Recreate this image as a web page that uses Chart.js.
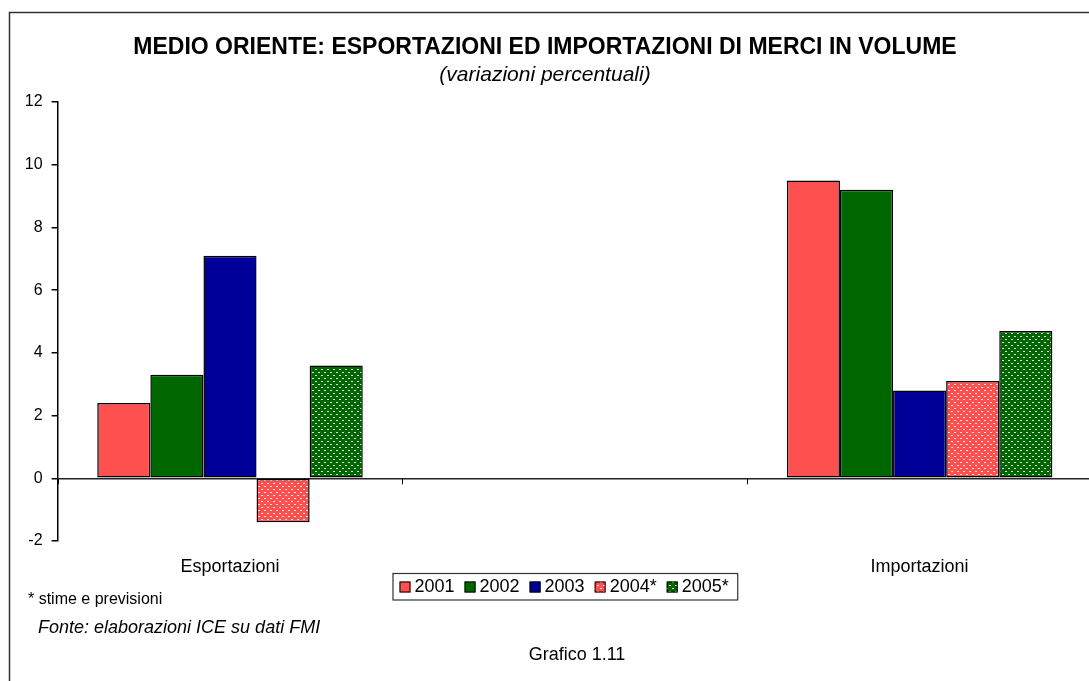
<!DOCTYPE html>
<html>
<head>
<meta charset="utf-8">
<script src="https://cdn.jsdelivr.net/npm/chart.js@4"></script>
<style>
html,body{margin:0;padding:0;background:#fff;overflow:hidden;}
#wrap{position:absolute;left:0;top:0;width:1100px;height:681px;}
</style>
</head>
<body>
<div id="wrap"><canvas id="c" width="1100" height="681"></canvas></div>
<script>
// ---- data ----
const categories = ['Esportazioni', '', 'Importazioni'];
const seriesLabels = ['2001', '2002', '2003', '2004*', '2005*'];
const v2001 = [2.4, null, 9.5];
const v2002 = [3.3, null, 9.2];
const v2003 = [7.1, null, 2.8];
const v2004 = [-1.4, null, 3.1];
const v2005 = [3.6, null, 4.7];
const yTicks = [-2, 0, 2, 4, 6, 8, 10, 12];
const titleText = 'MEDIO ORIENTE: ESPORTAZIONI ED IMPORTAZIONI DI MERCI IN VOLUME';
const subtitleText = '(variazioni percentuali)';
const noteText = '* stime e previsioni';
const sourceText = 'Fonte: elaborazioni ICE su dati FMI';
const chartNo = 'Grafico 1.11';

const FONT = '"Liberation Sans", Arial, sans-serif';
const RED = '#FF5050', GREEN = '#006600', BLUE = '#000099';

function makePattern(base) {
  const t = document.createElement('canvas');
  t.width = 6; t.height = 6;
  const g = t.getContext('2d');
  g.fillStyle = base; g.fillRect(0, 0, 6, 6);
  g.fillStyle = 'rgba(255,255,255,0.85)';
  g.fillRect(0, 0, 2, 1);
  g.fillRect(3, 3, 2, 1);
  return g.createPattern(t, 'repeat');
}
const ctx = document.getElementById('c').getContext('2d');
const fills = [RED, GREEN, BLUE, makePattern(RED), makePattern(GREEN)];
const values = [v2001, v2002, v2003, v2004, v2005];

const decor = {
  id: 'decor',
  beforeDraw(chart) {
    const c = chart.ctx;
    c.save();
    c.fillStyle = '#fff';
    c.fillRect(0, 0, chart.width, chart.height);
    c.strokeStyle = '#333';
    c.lineWidth = 1.5;
    c.strokeRect(9.5, 12.5, 1200, 800);
    c.restore();
  },
  afterDraw(chart) {
    const c = chart.ctx;
    const xs = chart.scales.x, ys = chart.scales.y;
    c.save();
    // category boundary tick marks below the zero line
    const y0 = ys.getPixelForValue(0);
    const step = xs.getPixelForValue(1) - xs.getPixelForValue(0);
    c.strokeStyle = '#000'; c.lineWidth = 1;
    for (let k = 0; k <= categories.length; k++) {
      const x = Math.round(xs.getPixelForValue(0) - step / 2 + k * step) + 0.5;
      c.beginPath(); c.moveTo(x, y0); c.lineTo(x, y0 + 6); c.stroke();
    }
    // titles
    c.fillStyle = '#000';
    c.textAlign = 'center'; c.textBaseline = 'middle';
    c.font = 'bold 23px ' + FONT;
    c.fillText(titleText, 545, 48);
    c.font = 'italic 21px ' + FONT;
    c.fillText(subtitleText, 545, 75);
    c.font = '18px ' + FONT;
    c.fillText(chartNo, 577, 655);
    c.textAlign = 'left';
    c.font = '16px ' + FONT;
    c.fillText(noteText, 28, 600);
    c.font = 'italic 18px ' + FONT;
    c.fillText(sourceText, 38, 628);
    // legend
    c.font = '18px ' + FONT;
    const lx = 393, ly = 573.5, lh = 26.5, sq = 11;
    let x = lx + 6.5;
    const items = [];
    chart.data.datasets.forEach((ds) => {
      items.push({x, ds});
      x += sq + 4 + c.measureText(ds.label).width + 10;
    });
    const lw = x - 10 + 9 - lx;
    c.strokeStyle = '#333'; c.lineWidth = 1.2;
    c.strokeRect(lx, ly, lw, lh);
    items.forEach(({x, ds}) => {
      c.fillStyle = ds.backgroundColor;
      c.fillRect(x, 581.5, sq, sq);
      c.strokeStyle = '#000'; c.lineWidth = 1;
      c.strokeRect(x + 0.5, 582, sq - 1, sq - 1);
      c.fillStyle = '#000';
      c.fillText(ds.label, x + sq + 4, 587.5);
    });
    c.restore();
  }
};

new Chart(ctx, {
  type: 'bar',
  data: {
    labels: categories,
    datasets: seriesLabels.map((l, i) => ({
      label: l,
      data: values[i],
      backgroundColor: fills[i],
      borderColor: '#000',
      borderWidth: 1.5,
      borderSkipped: false,
      categoryPercentage: 0.77,
      barPercentage: 1.0
    }))
  },
  options: {
    responsive: false,
    animation: false,
    devicePixelRatio: 1,
    layout: { padding: { top: 102, left: 0, right: 8, bottom: 100 } },
    plugins: { legend: { display: false }, title: { display: false }, tooltip: { enabled: false } },
    scales: {
      x: {
        grid: { display: false, drawTicks: false },
        border: { display: false },
        ticks: { color: '#000', font: { family: FONT, size: 18 }, padding: 15, maxRotation: 0 },
        afterFit(s) { s.height = 40; }
      },
      y: {
        min: -2, max: 12,
        afterBuildTicks(s) { s.ticks = yTicks.map(v => ({ value: v })); },
        grid: {
          color: (c) => (c.tick && c.tick.value === 0 ? '#222' : 'rgba(0,0,0,0)'),
          lineWidth: 1.5,
          tickColor: '#000',
          tickLength: 6,
          drawOnChartArea: true
        },
        border: { display: true, color: '#000', width: 1.5 },
        ticks: { color: '#000', font: { family: FONT, size: 16 }, padding: 9 },
        afterFit(s) { s.width = 57.6; }
      }
    }
  },
  plugins: [decor]
});
</script>
</body>
</html>
